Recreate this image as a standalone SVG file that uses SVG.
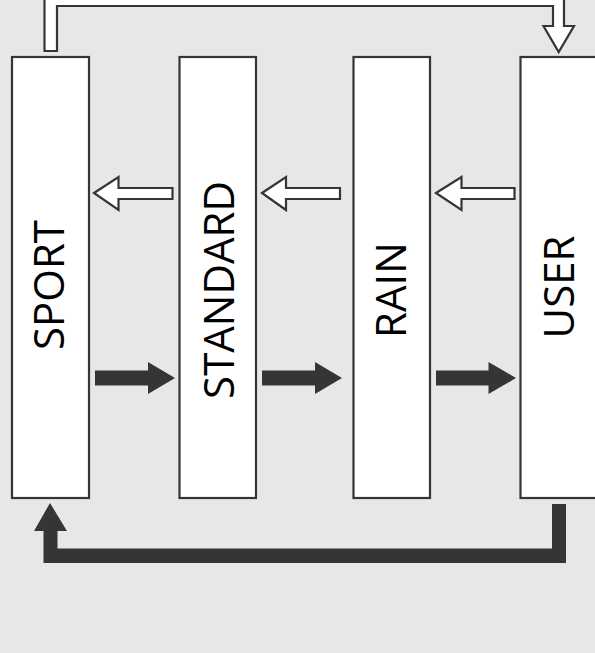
<svg xmlns="http://www.w3.org/2000/svg" width="595" height="653" viewBox="0 0 595 653">
<style>
.box{fill:#ffffff;stroke:#373435;stroke-width:2.2}
.lbl{font-family:"Open Sans","Noto Sans","DejaVu Sans",sans-serif;font-size:42px;fill:#000;text-anchor:middle}
.open{fill:#ffffff;stroke:#373435;stroke-width:2.2;stroke-linejoin:miter}
.solid{fill:#373435;stroke:none}
</style>
<rect width="595" height="653" fill="#e6e7e8"/>
<g id="connectors">
<path class="open" d="M44.5,51 L44.5,-6 L564,-6 L564,26 L574,26 L558.7,52 L543.5,26 L553,26 L553,6 L57,6 L57,51 Z"/>
<path class="open" d="M94,193 L118.5,177 L118.5,188 L172.5,188 L172.5,199 L118.5,199 L118.5,210 Z"/>
<path class="open" d="M262,193 L286,177 L286,188 L340,188 L340,199 L286,199 L286,210 Z"/>
<path class="open" d="M436,193 L461.5,177 L461.5,188 L514.5,188 L514.5,199 L461.5,199 L461.5,210 Z"/>
<path class="solid" d="M95,370.5 L148,370.5 L148,362 L175,378 L148,394 L148,385.5 L95,385.5 Z"/>
<path class="solid" d="M262,370.5 L315,370.5 L315,362 L342,378 L315,394 L315,385.5 L262,385.5 Z"/>
<path class="solid" d="M436,370.5 L488.5,370.5 L488.5,362 L516,378 L488.5,394 L488.5,385.5 L436,385.5 Z"/>
<path class="solid" d="M552,504 L566,504 L566,563 L43.5,563 L43.5,531 L34,531 L50,503 L67,531 L57.5,531 L57.5,548.5 L552,548.5 Z"/>
</g>
<g id="sport">
<rect class="box" x="12" y="57" width="77" height="441"/>
<text class="lbl" transform="translate(64,285) rotate(-90)">SPORT</text>
</g>
<g id="standard">
<rect class="box" x="179.5" y="57" width="76.5" height="441"/>
<text class="lbl" transform="translate(233.5,290) rotate(-90)">STANDARD</text>
</g>
<g id="rain">
<rect class="box" x="353.5" y="57" width="76.5" height="441"/>
<text class="lbl" transform="translate(406,290) rotate(-90)">RAIN</text>
</g>
<g id="user">
<rect class="box" x="520.5" y="57" width="80" height="441"/>
<text class="lbl" transform="translate(574,287) rotate(-90)">USER</text>
</g>
</svg>
